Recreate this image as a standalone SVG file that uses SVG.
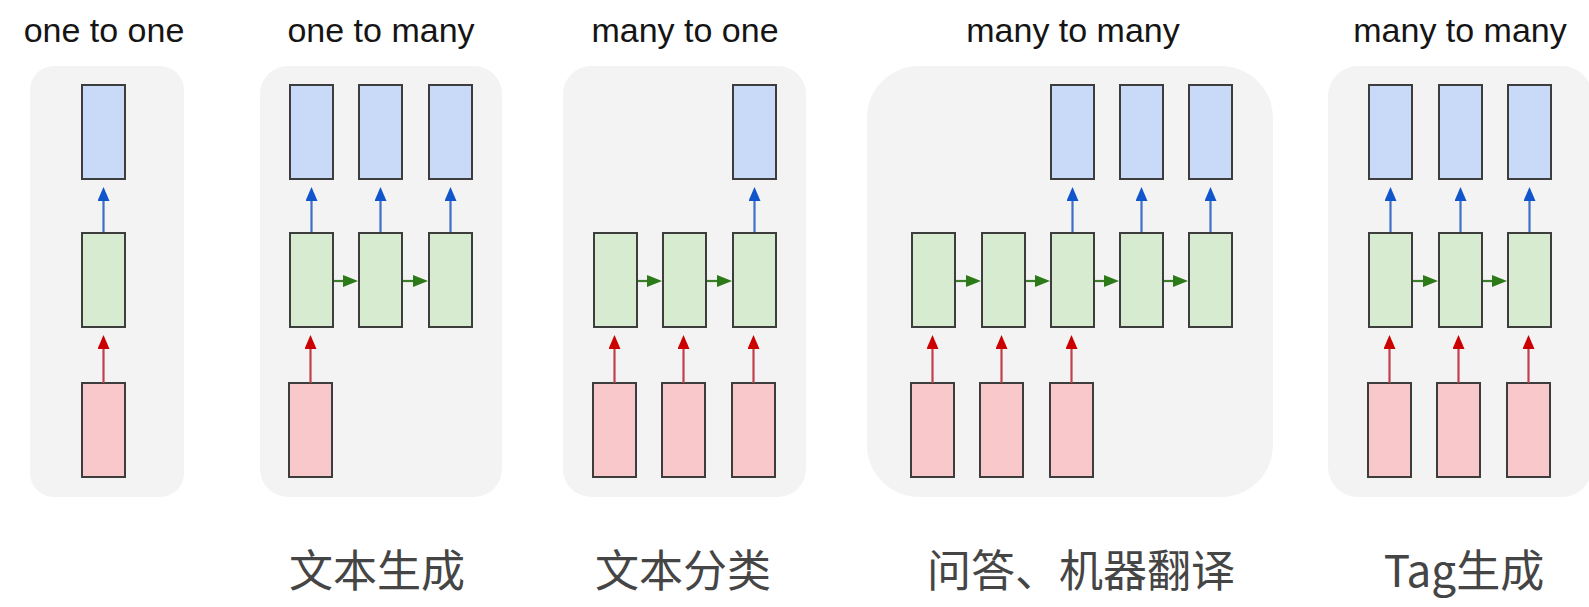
<svg xmlns="http://www.w3.org/2000/svg" width="1589" height="607" viewBox="0 0 1589 607">
<style>
.panel{fill:#f3f3f3}
.b{fill:#c9daf8;stroke:#3d3d3d;stroke-width:2}
.g{fill:#d6ebd0;stroke:#3d3d3d;stroke-width:2}
.r{fill:#f8c8cb;stroke:#3d3d3d;stroke-width:2}
.top{font-family:"Liberation Sans",Arial,sans-serif;font-size:34px;fill:#151515;text-anchor:middle}
.bot{font-family:"Noto Sans CJK SC","Noto Sans",sans-serif;font-size:44px;fill:#454545;text-anchor:middle}
.ab{stroke:#3f6fc8;stroke-width:2.2;fill:none;marker-end:url(#hb)}
.ar{stroke:#c2404c;stroke-width:2.2;fill:none;marker-end:url(#hr)}
.ag{stroke:#3a7e2a;stroke-width:2.2;fill:none;marker-end:url(#hg)}
</style>
<defs>
<marker id="hb" viewBox="0 0 14 12" refX="0" refY="6" markerWidth="14" markerHeight="12" markerUnits="userSpaceOnUse" orient="auto"><path d="M0,0 L14,6 L0,12 z" fill="#1155cc"/></marker>
<marker id="hr" viewBox="0 0 14 12" refX="0" refY="6" markerWidth="14" markerHeight="12" markerUnits="userSpaceOnUse" orient="auto"><path d="M0,0 L14,6 L0,12 z" fill="#cc0000"/></marker>
<marker id="hg" viewBox="0 0 15 12" refX="0" refY="6" markerWidth="15" markerHeight="12" markerUnits="userSpaceOnUse" orient="auto"><path d="M0,0 L15,6 L0,12 z" fill="#2b7a17"/></marker>
</defs>
<rect width="1589" height="607" fill="#ffffff"/>

<g id="panel-one-to-one">
<rect class="panel" x="30" y="66" width="154" height="431" rx="24"/>
<text class="top" x="104" y="42">one to one</text>
<rect class="b" x="82" y="85" width="43" height="94"/>
<rect class="g" x="82" y="233" width="43" height="94"/>
<rect class="r" x="82" y="383" width="43" height="94"/>
</g>

<g id="panel-one-to-many">
<rect class="panel" x="260" y="66" width="242" height="431" rx="28"/>
<text class="top" x="381" y="42">one to many</text>
<rect class="b" x="290" y="85" width="43" height="94"/>
<rect class="b" x="359" y="85" width="43" height="94"/>
<rect class="b" x="429" y="85" width="43" height="94"/>
<rect class="g" x="290" y="233" width="43" height="94"/>
<rect class="g" x="359" y="233" width="43" height="94"/>
<rect class="g" x="429" y="233" width="43" height="94"/>
<rect class="r" x="289" y="383" width="43" height="94"/>
<text class="bot" x="377" y="587">文本生成</text>
</g>

<g id="panel-many-to-one">
<rect class="panel" x="563" y="66" width="243" height="431" rx="28"/>
<text class="top" x="685" y="42">many to one</text>
<rect class="b" x="733" y="85" width="43" height="94"/>
<rect class="g" x="594" y="233" width="43" height="94"/>
<rect class="g" x="663" y="233" width="43" height="94"/>
<rect class="g" x="733" y="233" width="43" height="94"/>
<rect class="r" x="593" y="383" width="43" height="94"/>
<rect class="r" x="662" y="383" width="43" height="94"/>
<rect class="r" x="732" y="383" width="43" height="94"/>
<text class="bot" x="683" y="587">文本分类</text>
</g>

<g id="panel-many-to-many-1">
<rect class="panel" x="867" y="66" width="406" height="431" rx="52"/>
<text class="top" x="1073" y="42">many to many</text>
<rect class="b" x="1051" y="85" width="43" height="94"/>
<rect class="b" x="1120" y="85" width="43" height="94"/>
<rect class="b" x="1189" y="85" width="43" height="94"/>
<rect class="g" x="912" y="233" width="43" height="94"/>
<rect class="g" x="982" y="233" width="43" height="94"/>
<rect class="g" x="1051" y="233" width="43" height="94"/>
<rect class="g" x="1120" y="233" width="43" height="94"/>
<rect class="g" x="1189" y="233" width="43" height="94"/>
<rect class="r" x="911" y="383" width="43" height="94"/>
<rect class="r" x="980" y="383" width="43" height="94"/>
<rect class="r" x="1050" y="383" width="43" height="94"/>
<text class="bot" x="1081" y="587">问答、机器翻译</text>
</g>

<g id="panel-many-to-many-2">
<rect class="panel" x="1328" y="66" width="264" height="431" rx="30"/>
<text class="top" x="1460" y="42">many to many</text>
<rect class="b" x="1369" y="85" width="43" height="94"/>
<rect class="b" x="1439" y="85" width="43" height="94"/>
<rect class="b" x="1508" y="85" width="43" height="94"/>
<rect class="g" x="1369" y="233" width="43" height="94"/>
<rect class="g" x="1439" y="233" width="43" height="94"/>
<rect class="g" x="1508" y="233" width="43" height="94"/>
<rect class="r" x="1368" y="383" width="43" height="94"/>
<rect class="r" x="1437" y="383" width="43" height="94"/>
<rect class="r" x="1507" y="383" width="43" height="94"/>
<text class="bot" x="1464" y="587">Tag生成</text>
</g>

<g id="connectors">
<!-- panel 1 -->
<path class="ab" d="M103.5,232 V201"/>
<path class="ar" d="M103.5,383 V349"/>
<!-- panel 2 -->
<path class="ab" d="M311.5,232 V201"/>
<path class="ab" d="M380.5,232 V201"/>
<path class="ab" d="M450.5,232 V201"/>
<path class="ar" d="M310.5,383 V349"/>
<path class="ag" d="M334,281 H343"/>
<path class="ag" d="M403,281 H413"/>
<!-- panel 3 -->
<path class="ab" d="M754.5,232 V201"/>
<path class="ar" d="M614.5,383 V349"/>
<path class="ar" d="M683.5,383 V349"/>
<path class="ar" d="M753.5,383 V349"/>
<path class="ag" d="M638,281 H647"/>
<path class="ag" d="M707,281 H717"/>
<!-- panel 4 -->
<path class="ab" d="M1072.5,232 V201"/>
<path class="ab" d="M1141.5,232 V201"/>
<path class="ab" d="M1210.5,232 V201"/>
<path class="ar" d="M932.5,383 V349"/>
<path class="ar" d="M1001.5,383 V349"/>
<path class="ar" d="M1071.5,383 V349"/>
<path class="ag" d="M956,281 H966"/>
<path class="ag" d="M1026,281 H1035"/>
<path class="ag" d="M1095,281 H1104"/>
<path class="ag" d="M1164,281 H1173"/>
<!-- panel 5 -->
<path class="ab" d="M1390.5,232 V201"/>
<path class="ab" d="M1460.5,232 V201"/>
<path class="ab" d="M1529.5,232 V201"/>
<path class="ar" d="M1389.5,383 V349"/>
<path class="ar" d="M1458.5,383 V349"/>
<path class="ar" d="M1528.5,383 V349"/>
<path class="ag" d="M1413,281 H1423"/>
<path class="ag" d="M1483,281 H1492"/>
</g>
</svg>
